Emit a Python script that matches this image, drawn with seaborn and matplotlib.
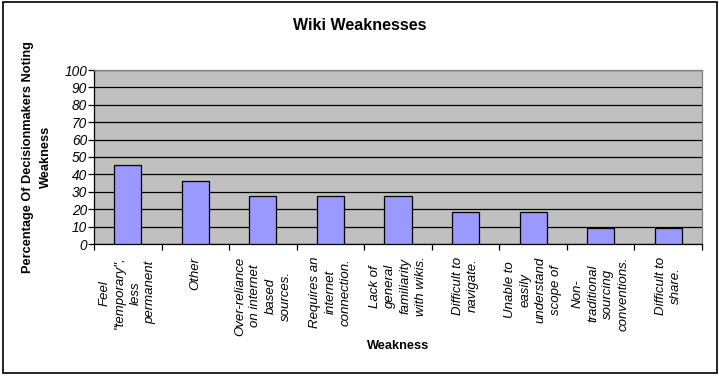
import matplotlib
matplotlib.use('Agg')
import matplotlib.pyplot as plt
import seaborn as sns
import pandas as pd
from matplotlib.patches import Rectangle

categories = [
    'Feel "temporary", less permanent',
    'Other',
    'Over-reliance on internet based sources.',
    'Requires an internet connection.',
    'Lack of general familiarity with wikis.',
    'Difficult to navigate.',
    'Unable to easily understand scope of',
    'Non-traditional sourcing conventions.',
    'Difficult to share.',
]
values = [45.5, 36.4, 27.3, 27.3, 27.3, 18.2, 18.2, 9.1, 9.1]
tick_labels = [
    'Feel\n"temporary",\nless\npermanent',
    'Other',
    'Over-reliance\non internet\nbased\nsources.',
    'Requires an\ninternet\nconnection.',
    'Lack of\ngeneral\nfamiliarity\nwith wikis.',
    'Difficult to\nnavigate.',
    'Unable to\neasily\nunderstand\nscope of',
    'Non-\ntraditional\nsourcing\nconventions.',
    'Difficult to\nshare.',
]
y_ticks = [0, 10, 20, 30, 40, 50, 60, 70, 80, 90, 100]

sns.set_theme(style='white')
plt.rcParams['font.family'] = ['Liberation Sans', 'DejaVu Sans']

W, H = 719, 376
fig = plt.figure(figsize=(W / 100, H / 100), dpi=100)
fig.patch.set_facecolor('white')
ax = fig.add_axes([94 / W, (H - 244) / H, 608 / W, 174 / H])

df = pd.DataFrame({'Weakness': categories, 'Value': values})
sns.barplot(data=df, x='Weakness', y='Value', color='#9999FF', saturation=1,
            edgecolor='black', linewidth=0.9, width=0.4, ax=ax, zorder=3)

ax.set_facecolor('#C0C0C0')
ax.set_ylim(0, 100)
ax.set_xlim(-0.5, len(categories) - 0.5)
ax.set_yticks(y_ticks)
ax.set_yticklabels([str(v) for v in y_ticks], fontstyle='italic', fontsize=9.8)
ax.yaxis.grid(True, color='black', linewidth=0.9, zorder=1)
ax.xaxis.grid(False)
ax.set_axisbelow(True)

for s in ['top', 'right']:
    ax.spines[s].set_color('#808080')
    ax.spines[s].set_linewidth(0.9)
for s in ['left', 'bottom']:
    ax.spines[s].set_color('black')
    ax.spines[s].set_linewidth(0.9)

ax.tick_params(axis='y', which='major', direction='out', length=4, width=0.9,
               color='black', pad=1, left=True, labelcolor='black')
ax.set_xticks(range(len(categories)))
ax.set_xticklabels(tick_labels, rotation=90, fontstyle='italic', fontsize=9.5,
                   ha='center', va='top', linespacing=1.35)
for t in ax.get_xticklabels():
    t.set_multialignment('center')
ax.set_xticks([i - 0.5 for i in range(len(categories) + 1)], minor=True)
ax.tick_params(axis='x', which='major', length=0, pad=9, labelcolor='black')
ax.tick_params(axis='x', which='minor', direction='out', length=4, width=0.9,
               color='black', bottom=True)
ax.set_xlabel('')
ax.set_ylabel('')

fig.text(360 / W, 1 - 26 / H, 'Wiki Weaknesses', ha='center', va='center',
         fontsize=11.5, fontweight='bold', color='black')
fig.text(37 / W, 1 - 157 / H, 'Percentage Of Decisionmakers Noting\nWeakness',
         ha='center', va='center', rotation=90, fontsize=9.2, fontweight='bold',
         multialignment='center', linespacing=1.7, color='black')
fig.text(398 / W, 1 - 346 / H, 'Weakness', ha='center', va='center',
         fontsize=9.2, fontweight='bold', color='black')

fig.add_artist(Rectangle((2.5 / W, 3.5 / H), 714 / W, 371 / H, transform=fig.transFigure,
                         fill=False, edgecolor='black', linewidth=1.2))

fig.savefig('out.png', dpi=100)
